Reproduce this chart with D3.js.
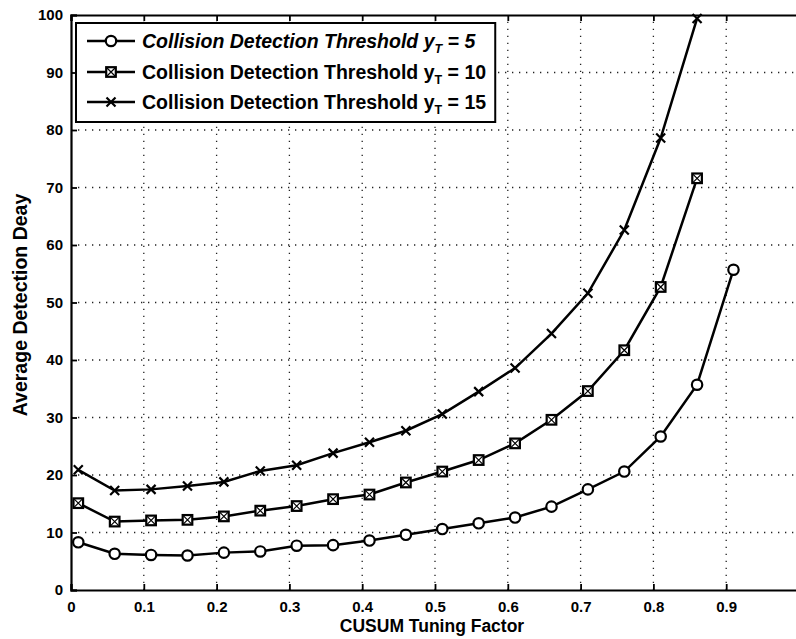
<!DOCTYPE html>
<html>
<head>
<meta charset="utf-8">
<script src="https://cdn.jsdelivr.net/npm/d3@7"></script>
<style>
  body { margin: 0; background: #fff; }
  text { font-family: "Liberation Sans", Arial, Helvetica, sans-serif; font-weight: bold; fill: #000; }
</style>
</head>
<body>
<script>
// CUSUM tuning factor values (x)
var tuning = [0.01, 0.06, 0.11, 0.16, 0.21, 0.26, 0.31, 0.36, 0.41, 0.46,
              0.51, 0.56, 0.61, 0.66, 0.71, 0.76, 0.81, 0.86, 0.91];

// average detection delay per threshold
var delay5  = [8.3, 6.3, 6.1, 6.0, 6.5, 6.7, 7.7, 7.8, 8.6, 9.6,
               10.6, 11.6, 12.6, 14.5, 17.5, 20.6, 26.7, 35.7, 55.7];
var delay10 = [15.1, 11.9, 12.1, 12.2, 12.8, 13.8, 14.6, 15.8, 16.6, 18.7,
               20.6, 22.6, 25.5, 29.6, 34.6, 41.7, 52.7, 71.6];
var delay15 = [20.9, 17.3, 17.5, 18.1, 18.8, 20.7, 21.7, 23.8, 25.7, 27.7,
               30.6, 34.5, 38.6, 44.6, 51.6, 62.6, 78.6, 99.4];

var xTicks = [0, 0.1, 0.2, 0.3, 0.4, 0.5, 0.6, 0.7, 0.8, 0.9];
var yTicks = [0, 10, 20, 30, 40, 50, 60, 70, 80, 90, 100];
var thresholds = ["5", "10", "15"];
var markers = ["circle", "square", "cross"];

var width = 796, height = 639;

var x = d3.scaleLinear().domain([0, 1]).range([71, 799]);
var y = d3.scaleLinear().domain([0, 100]).range([590, 15]);

var svg = d3.select("body").append("svg")
    .attr("width", width)
    .attr("height", height);

// dotted grid
svg.append("g")
   .selectAll("line")
   .data(xTicks.slice(1))
   .join("line")
   .attr("x1", d => x(d)).attr("x2", d => x(d))
   .attr("y1", y(0)).attr("y2", y(100))
   .attr("stroke", "#222")
   .attr("stroke-width", 1.3)
   .attr("stroke-dasharray", "1.3,5.7");

svg.append("g")
   .selectAll("line")
   .data(yTicks.slice(1, -1))
   .join("line")
   .attr("x1", x(0)).attr("x2", x(1))
   .attr("y1", d => y(d)).attr("y2", d => y(d))
   .attr("stroke", "#222")
   .attr("stroke-width", 1.3)
   .attr("stroke-dasharray", "1.3,5.7");

// axes, MATLAB style ticks pointing inward
var axBottom = svg.append("g")
   .attr("transform", `translate(0, ${y(0)})`)
   .call(d3.axisBottom(x).tickValues(xTicks).tickSize(-6).tickPadding(11)
         .tickFormat(d => d === 0 ? "0" : d3.format(".1f")(d)));

var axTop = svg.append("g")
   .attr("transform", `translate(0, ${y(100)})`)
   .call(d3.axisTop(x).tickValues(xTicks).tickSize(-6).tickFormat(""));

var axLeft = svg.append("g")
   .attr("transform", `translate(${x(0)}, 0)`)
   .call(d3.axisLeft(y).tickValues(yTicks).tickSize(-6).tickPadding(8));

[axBottom, axTop, axLeft].forEach(function(g) {
  g.select(".domain").attr("stroke", "#000").attr("stroke-width", 2.2);
  g.selectAll(".tick line").attr("stroke", "#000").attr("stroke-width", 1.8);
  g.selectAll(".tick text").style("font-size", "15px");
});

// axis labels
svg.append("text")
   .attr("x", 432)
   .attr("y", 632)
   .style("text-anchor", "middle")
   .style("font-size", "17.5px")
   .text("CUSUM Tuning Factor");

svg.append("text")
   .attr("transform", "rotate(-90)")
   .attr("x", -305)
   .attr("y", 27)
   .style("text-anchor", "middle")
   .style("font-size", "19.5px")
   .text("Average Detection Deay");

// lines
var line = d3.line()
    .x((d, i) => x(tuning[i]))
    .y(d => y(d));

var series = [delay5, delay10, delay15];

function drawMarker(g, kind, cx, cy) {
  if (kind === "circle") {
    g.append("circle").attr("cx", cx).attr("cy", cy).attr("r", 5.2)
     .attr("fill", "#fff").attr("stroke", "#000").attr("stroke-width", 2.2);
  } else if (kind === "square") {
    g.append("rect").attr("x", cx - 4.8).attr("y", cy - 4.8)
     .attr("width", 9.6).attr("height", 9.6)
     .attr("fill", "#fff").attr("stroke", "#000").attr("stroke-width", 2.2);
    g.append("path").attr("d", `M${cx-4},${cy-4}L${cx+4},${cy+4}M${cx-4},${cy+4}L${cx+4},${cy-4}`)
     .attr("stroke", "#000").attr("stroke-width", 1.2);
  } else {
    g.append("path").attr("d", `M${cx-4.5},${cy-4.5}L${cx+4.5},${cy+4.5}M${cx-4.5},${cy+4.5}L${cx+4.5},${cy-4.5}`)
     .attr("stroke", "#000").attr("stroke-width", 2.2);
  }
}

series.forEach(function(s, k) {
  svg.append("path")
     .attr("d", line(s))
     .attr("fill", "none")
     .attr("stroke", "#000")
     .attr("stroke-width", 2.5);
  var g = svg.append("g");
  s.forEach(function(v, i) { drawMarker(g, markers[k], x(tuning[i]), y(v)); });
});

// legend
var legend = svg.append("g");
var box = legend.append("rect")
   .attr("x", 76).attr("y", 23)
   .attr("height", 99)
   .attr("fill", "#fff").attr("stroke", "#000").attr("stroke-width", 2);

var rowY = [41, 72, 102];
var maxEnd = 0;
thresholds.forEach(function(t, k) {
  var gy = rowY[k];
  legend.append("line").attr("x1", 87).attr("x2", 135).attr("y1", gy).attr("y2", gy)
        .attr("stroke", "#000").attr("stroke-width", 2.4);
  drawMarker(legend, markers[k], 111, gy);
  var txt = legend.append("text")
     .attr("x", 142).attr("y", gy + 7)
     .style("font-size", "19.5px")
     .style("font-style", k === 0 ? "italic" : "normal");
  txt.append("tspan").text("Collision Detection Threshold y");
  txt.append("tspan").attr("dy", 5).style("font-size", "12.5px").text("T");
  txt.append("tspan").attr("dy", -5).text(" = " + t);
  var bb = txt.node().getBBox();
  maxEnd = Math.max(maxEnd, bb.x + bb.width);
});
box.attr("width", maxEnd + 9 - 76);
</script>
</body>
</html>
